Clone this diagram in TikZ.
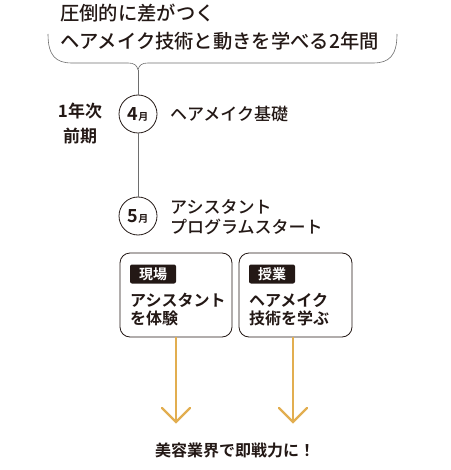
\documentclass[tikz,border=0pt]{standalone}
\usepackage{fontspec}
\newfontfamily\cjk{Noto Sans CJK JP Medium}
\newfontfamily\cjkb{Noto Sans CJK JP Bold}
\definecolor{ink}{HTML}{231815}
\definecolor{gold}{HTML}{E2AE50}
\definecolor{rule}{HTML}{6E6E6E}
\begin{document}
\begin{tikzpicture}[x=1pt,y=-1pt,
  txt/.style={inner sep=0pt,anchor=west,text=ink,font=\cjk\fontsize{17}{22}\selectfont,align=left},
  btxt/.style={inner sep=0pt,anchor=west,text=ink,font=\cjkb\fontsize{16}{18}\selectfont,align=left},
  month/.style={circle,draw=ink,line width=0.8pt,minimum size=38pt,inner sep=0pt,text=ink},
  card/.style={draw=ink,line width=0.8pt,rounded corners=10pt},
  tag/.style={fill=ink,rounded corners=2pt,text=white,font=\cjkb\fontsize{14}{14}\selectfont,minimum width=46pt,minimum height=19pt,inner sep=0pt},
  gold arrow/.style={draw=gold,line width=2.4pt}]
\useasboundingbox (0,0) rectangle (450,470);
% title
\node[txt,font=\cjk\fontsize{19.3}{28}\selectfont,anchor=west] (t1) at (60,13) {圧倒的に差がつく};
\node[txt,font=\cjk\fontsize{19.3}{28}\selectfont,anchor=west] (t2) at (60,41) {ヘアメイク技術と動きを学べる2年間};
% brace
\coordinate (bl) at (48,34);
\coordinate (br) at (397,34);
\coordinate (tip) at (138,70);
\draw[rule,line width=0.6pt] (bl) .. controls (48,56) and (56,63) .. (72,63) -- (128,63) .. controls (134,63) and (137,65) .. (tip)
  (tip) .. controls (139,65) and (142,63) .. (148,63) -- (373,63) .. controls (389,63) and (397,56) .. (br);
% months
\node[month] (m4) at (138,114) {\cjkb\fontsize{18}{18}\selectfont 4\fontsize{10}{10}\selectfont 月};
\node[month] (m5) at (138,216) {\cjkb\fontsize{18}{18}\selectfont 5\fontsize{10}{10}\selectfont 月};
\draw[rule,line width=0.6pt] (tip) -- (m4);
\draw[rule,line width=0.6pt] (m4) -- (m5);
\node[btxt,font=\cjkb\fontsize{17}{25}\selectfont,anchor=center,align=center] (yr) at (80,124) {1年次\\前期};
\node[txt] (l4) at (170,114) {ヘアメイク基礎};
\node[txt,font=\cjk\fontsize{17}{20}\selectfont] (l5) at (170,217) {アシスタント\\プログラムスタート};
% cards
\draw[card] (120,253) rectangle (232,337);
\draw[card] (239,253) rectangle (352,337);
\coordinate (c1) at (176,337);
\coordinate (c2) at (293,337);
\node[tag] (g1) at (153,274) {現場};
\node[tag] (g2) at (272,274) {授業};
\node[btxt] (k1) at (130,310) {アシスタント\\を体験};
\node[btxt] (k2) at (249,310) {ヘアメイク\\技術を学ぶ};
% arrows
\coordinate (a1) at (176,422);
\coordinate (a2) at (293,422);
\draw[gold arrow] (c1) -- (a1);
\draw[gold arrow] (c2) -- (a2);
\draw[gold arrow,line cap=round,line join=miter] (162,408) -- (a1) -- (190,408);
\draw[gold arrow,line cap=round,line join=miter] (279,408) -- (a2) -- (307,408);
\node[btxt,anchor=center] (end) at (235,450) {美容業界で即戦力に！};
\end{tikzpicture}
\end{document}
